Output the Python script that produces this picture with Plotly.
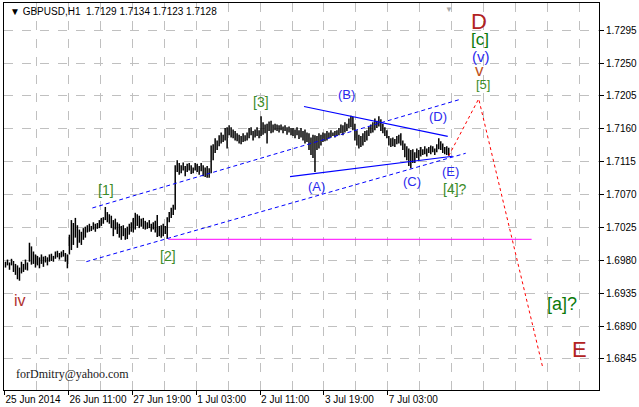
import plotly.graph_objects as go

# ---------------- data ----------------
symbol_title = "GBPUSD,H1"
last_ohlc = [1.7129, 1.7134, 1.7123, 1.7128]

bar_high = [
    1.6978, 1.6981, 1.6977, 1.6982, 1.6979, 1.6975, 1.6973, 1.6970, 1.6978, 1.6975, 1.6981, 1.6977, 1.7004, 1.6999, 1.6992, 1.6988,
    1.6986, 1.6984, 1.6988, 1.6985, 1.6986, 1.6984, 1.6988, 1.6989, 1.6986, 1.6992, 1.6993, 1.6990, 1.6992, 1.6994, 1.6990, 1.6988,
    1.7015, 1.7035, 1.7031, 1.7038, 1.7028, 1.7022, 1.7019, 1.7024, 1.7026, 1.7028, 1.7030, 1.7027, 1.7032, 1.7030, 1.7031, 1.7035,
    1.7038, 1.7039, 1.7053, 1.7046, 1.7043, 1.7041, 1.7035, 1.7037, 1.7032, 1.7030, 1.7027, 1.7028, 1.7024, 1.7026, 1.7030, 1.7032,
    1.7038, 1.7045, 1.7043, 1.7041, 1.7037, 1.7038, 1.7034, 1.7032, 1.7035, 1.7030, 1.7032, 1.7034, 1.7042, 1.7027, 1.7028, 1.7030,
    1.7027, 1.7039, 1.7046, 1.7052, 1.7056, 1.7110, 1.7117, 1.7113, 1.7110, 1.7114, 1.7109, 1.7112, 1.7113, 1.7110, 1.7107, 1.7113,
    1.7112, 1.7109, 1.7113, 1.7110, 1.7107, 1.7109, 1.7106, 1.7137, 1.7139, 1.7147, 1.7144, 1.7151, 1.7155, 1.7152, 1.7161, 1.7162,
    1.7165, 1.7162, 1.7159, 1.7157, 1.7154, 1.7152, 1.7150, 1.7154, 1.7151, 1.7155, 1.7161, 1.7162, 1.7157, 1.7159, 1.7162, 1.7158,
    1.7177, 1.7169, 1.7166, 1.7167, 1.7170, 1.7171, 1.7166, 1.7167, 1.7166, 1.7165, 1.7166, 1.7163, 1.7165, 1.7162, 1.7163, 1.7161,
    1.7161, 1.7159, 1.7162, 1.7158, 1.7161, 1.7157, 1.7159, 1.7155, 1.7154, 1.7148, 1.7152, 1.7151, 1.7150, 1.7154, 1.7152, 1.7155,
    1.7154, 1.7157, 1.7155, 1.7158, 1.7155, 1.7157, 1.7158, 1.7161, 1.7166, 1.7165, 1.7169, 1.7167, 1.7174, 1.7178, 1.7176, 1.7167,
    1.7158, 1.7152, 1.7150, 1.7154, 1.7157, 1.7158, 1.7163, 1.7166, 1.7169, 1.7174, 1.7171, 1.7177, 1.7173, 1.7167, 1.7162, 1.7158,
    1.7150, 1.7147, 1.7148, 1.7146, 1.7150, 1.7152, 1.7154, 1.7144, 1.7140, 1.7136, 1.7133, 1.7131, 1.7132, 1.7128, 1.7133, 1.7131,
    1.7135, 1.7132, 1.7136, 1.7133, 1.7135, 1.7137, 1.7136, 1.7133, 1.7139, 1.7147, 1.7143, 1.7140, 1.7135, 1.7136, 1.7134,
]
bar_low = [
    1.6970, 1.6973, 1.6967, 1.6973, 1.6964, 1.6960, 1.6954, 1.6952, 1.6962, 1.6964, 1.6967, 1.6966, 1.6978, 1.6974, 1.6975, 1.6970,
    1.6973, 1.6969, 1.6975, 1.6971, 1.6977, 1.6973, 1.6978, 1.6979, 1.6978, 1.6982, 1.6984, 1.6981, 1.6984, 1.6985, 1.6978, 1.6969,
    1.6988, 1.6994, 1.7001, 1.7011, 1.6997, 1.7004, 1.7001, 1.7008, 1.7011, 1.7018, 1.7019, 1.7020, 1.7022, 1.7019, 1.7023, 1.7024,
    1.7027, 1.7030, 1.7035, 1.7032, 1.7030, 1.7024, 1.7013, 1.7022, 1.7016, 1.7011, 1.7008, 1.7013, 1.7008, 1.7009, 1.7015, 1.7019,
    1.7018, 1.7022, 1.7027, 1.7024, 1.7026, 1.7023, 1.7022, 1.7023, 1.7024, 1.7019, 1.7022, 1.7018, 1.7012, 1.7013, 1.7011, 1.7013,
    1.7016, 1.7009, 1.7032, 1.7038, 1.7042, 1.7049, 1.7101, 1.7097, 1.7099, 1.7103, 1.7095, 1.7101, 1.7103, 1.7098, 1.7099, 1.7103,
    1.7101, 1.7097, 1.7102, 1.7095, 1.7094, 1.7093, 1.7093, 1.7099, 1.7117, 1.7127, 1.7131, 1.7136, 1.7140, 1.7142, 1.7144, 1.7133,
    1.7151, 1.7148, 1.7147, 1.7144, 1.7143, 1.7140, 1.7139, 1.7142, 1.7143, 1.7144, 1.7147, 1.7151, 1.7144, 1.7148, 1.7150, 1.7147,
    1.7150, 1.7152, 1.7154, 1.7140, 1.7157, 1.7154, 1.7155, 1.7158, 1.7157, 1.7155, 1.7158, 1.7154, 1.7157, 1.7152, 1.7155, 1.7151,
    1.7150, 1.7147, 1.7151, 1.7146, 1.7148, 1.7144, 1.7140, 1.7142, 1.7131, 1.7124, 1.7120, 1.7101, 1.7131, 1.7133, 1.7137, 1.7142,
    1.7143, 1.7144, 1.7147, 1.7148, 1.7150, 1.7148, 1.7150, 1.7151, 1.7154, 1.7151, 1.7155, 1.7157, 1.7161, 1.7162, 1.7158, 1.7144,
    1.7137, 1.7133, 1.7135, 1.7137, 1.7142, 1.7144, 1.7150, 1.7154, 1.7155, 1.7158, 1.7161, 1.7163, 1.7157, 1.7154, 1.7150, 1.7147,
    1.7137, 1.7135, 1.7136, 1.7135, 1.7139, 1.7140, 1.7137, 1.7131, 1.7121, 1.7117, 1.7109, 1.7106, 1.7113, 1.7113, 1.7120, 1.7117,
    1.7122, 1.7124, 1.7125, 1.7122, 1.7127, 1.7125, 1.7128, 1.7124, 1.7128, 1.7132, 1.7131, 1.7127, 1.7125, 1.7124, 1.7123,
]

time_labels = ["25 Jun 2014", "26 Jun 11:00", "27 Jun 19:00", "1 Jul 03:00",
               "2 Jul 11:00", "3 Jul 19:00", "7 Jul 03:00"]
time_label_pos = [-0.5, 31.5, 63.5, 95.5, 127.5, 159.5, 191.5]
price_ticks = [1.6845, 1.6890, 1.6935, 1.6980, 1.7025, 1.7070, 1.7115,
               1.7160, 1.7205, 1.7250, 1.7295]

# trend lines (bar index, price)
channel_upper_x = [43.5, 227.5]
channel_upper_y = [1.70516, 1.72001]
channel_lower_x = [40.5, 230.5]
channel_lower_y = [1.69781, 1.71265]
tri_upper_x = [149.5, 221.5]
tri_upper_y = [1.71905, 1.71497]
tri_lower_x = [142.5, 224.0]
tri_lower_y = [1.70945, 1.71224]
level_x = [81.5, 263.5]
level_y = [1.70087, 1.70087]
forecast_x = [222, 237, 269]
forecast_y = [1.7123, 1.7201, 1.6834]

# wave labels: text, bar index, price, colour, size
wave_labels = [
    ("iv", 7.5, 1.69249, "#b03030", 16),
    ("[1]", 50.25, 1.70761, "#3c8c28", 14),
    ("[2]", 81.25, 1.69862, "#3c8c28", 14),
    ("[3]", 128.0, 1.71967, "#3c8c28", 14),
    ("(A)", 156.0, 1.70816, "#2a2aee", 13),
    ("(B)", 170.75, 1.72069, "#2a2aee", 13),
    ("(C)", 203.5, 1.70884, "#2a2aee", 13),
    ("(D)", 216.75, 1.71762, "#2a2aee", 13),
    ("(E)", 222.75, 1.71013, "#2a2aee", 13),
    ("[4]?", 225.0, 1.70775, "#3c8c28", 14),
    ("[5]", 239.25, 1.72205, "#3c8c28", 13),
    ("v", 237.5, 1.72396, "#c05020", 17),
    ("(v)", 238.0, 1.72586, "#2a2aee", 15),
    ("[c]", 237.5, 1.72825, "#0a7a0a", 17),
    ("D", 237.0, 1.73063, "#b22222", 22),
    ("[a]?", 278.75, 1.69195, "#0a7a0a", 18),
    ("E", 287.5, 1.68575, "#b22222", 22),
]

# ---------------- figure ----------------
fig = go.Figure()

bx, by = [], []
for i, (h, l) in enumerate(zip(bar_high, bar_low)):
    bx += [i, i, None]
    by += [l, h, None]
fig.add_trace(go.Scatter(x=bx, y=by, mode="lines",
                         line=dict(color="black", width=1.5), hoverinfo="skip"))

fig.add_trace(go.Scatter(x=level_x, y=level_y, mode="lines",
                         line=dict(color="#ff00ff", width=1), hoverinfo="skip"))
for xs, ys in [(channel_upper_x, channel_upper_y), (channel_lower_x, channel_lower_y)]:
    fig.add_trace(go.Scatter(x=xs, y=ys, mode="lines",
                             line=dict(color="#0000ff", width=1, dash="4px,3px"),
                             hoverinfo="skip"))
for xs, ys in [(tri_upper_x, tri_upper_y), (tri_lower_x, tri_lower_y)]:
    fig.add_trace(go.Scatter(x=xs, y=ys, mode="lines",
                             line=dict(color="#0000ff", width=1.2), hoverinfo="skip"))
fig.add_trace(go.Scatter(x=forecast_x, y=forecast_y, mode="lines",
                         line=dict(color="#ff0000", width=1, dash="3px,3px"),
                         hoverinfo="skip"))

annotations = []
for txt, x, y, col, sz in wave_labels:
    annotations.append(dict(x=x, y=y, xref="x", yref="y", text=txt, showarrow=False,
                            font=dict(family="Liberation Sans, Arial", size=sz, color=col),
                            xanchor="center", yanchor="middle"))
annotations.append(dict(
    x=0.0067, y=0.978, xref="paper", yref="paper", xanchor="left", yanchor="middle",
    text="\u25BC " + symbol_title + "\u00a0\u00a0" + " ".join(f"{v:.4f}" for v in last_ohlc),
    showarrow=False, font=dict(family="Liberation Sans, Arial", size=10, color="black")))
annotations.append(dict(
    x=0.0168, y=0.0404, xref="paper", yref="paper", xanchor="left", yanchor="middle",
    text="forDmitry@yahoo.com", showarrow=False,
    font=dict(family="Liberation Serif, Times New Roman", size=12, color="#202020")))
annotations.append(dict(
    x=222, y=1.0, xref="x", yref="paper", xanchor="center", yanchor="top",
    text="\u25BC", showarrow=False, font=dict(size=8, color="#a8a8a8")))

fig.update_layout(
    width=639, height=407,
    margin=dict(l=4, r=39, t=2, b=16),
    paper_bgcolor="white", plot_bgcolor="white",
    showlegend=False,
    annotations=annotations,
    font=dict(family="Liberation Sans, Arial", size=10, color="black"),
)
fig.update_xaxes(
    range=[-0.75, 297.25],
    tickmode="array", tickvals=time_label_pos, ticktext=time_labels,
    ticks="outside", ticklen=4, tickcolor="black", tickangle=0,
    ticklabelposition="outside right",
    showgrid=True, gridcolor="#c0c0c0", griddash="dash", gridwidth=1,
    minor=dict(tickmode="linear", tick0=-0.5, dtick=16, showgrid=True,
               gridcolor="#c0c0c0", griddash="dash", gridwidth=1, ticks=""),
    showline=True, linecolor="black", linewidth=1, mirror=True,
    zeroline=False, tickfont=dict(size=10),
)
fig.update_yaxes(
    range=[1.68024, 1.73322], side="right",
    tickmode="array", tickvals=price_ticks, tickformat=".4f",
    ticks="outside", ticklen=4, tickcolor="black",
    showgrid=True, gridcolor="#c0c0c0", griddash="dash", gridwidth=1,
    showline=True, linecolor="black", linewidth=1, mirror=True,
    zeroline=False, tickfont=dict(size=10),
)

fig.write_html("out.html", config={"displayModeBar": False},
               post_script="document.body.style.margin='0';")
